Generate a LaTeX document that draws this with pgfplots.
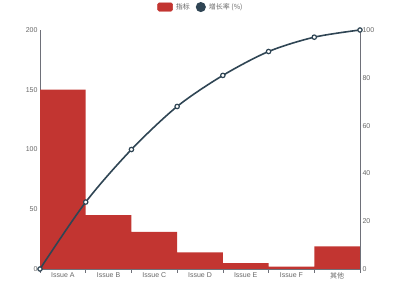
\documentclass[border=0pt]{standalone}
\usepackage{pgfplots}
\pgfplotsset{compat=1.18}
\usepackage{fontspec}
\setmainfont{Liberation Sans}
\newfontfamily\cjk{Noto Sans CJK SC}
\definecolor{barred}{HTML}{C23531}
\definecolor{linedark}{HTML}{2F4554}
\definecolor{axgray}{HTML}{6E7079}
\definecolor{labgray}{HTML}{666666}
\begin{document}
\begin{tikzpicture}[x=1pt,y=1pt]
\useasboundingbox (0,0) rectangle (400,300);
\pgfplotsset{
  common/.style={
    at={(40pt,31pt)}, anchor=south west,
    scale only axis, width=320pt, height=239pt,
    xmin=0, xmax=7,
    axis line style={axgray, line width=0.6pt},
    tick label style={font=\fontsize{7}{8}\selectfont, text=labgray},
    /pgf/number format/assume math mode=true,
    clip=false,
  }
}
\begin{axis}[
  common,
  ymin=0, ymax=200,
  ytick={0,50,...,200},
  axis x line*=bottom, axis y line*=left,
  xtick={0.5,1.5,...,6.5},
  xticklabels={Issue A,Issue B,Issue C,Issue D,Issue E,Issue F,{\cjk 其他}},
  major tick length=0pt,
  minor xtick={0,1,...,7},
  minor tick length=4pt,
  xtick pos=bottom, xtick align=outside,
  minor tick style={axgray, line width=0.6pt},
  yticklabel style={xshift=1pt},
]
\addplot[ybar, bar width=1, fill=barred, draw=none] coordinates {
  (0.5,150) (1.5,45) (2.5,31) (3.5,14) (4.5,5) (5.5,2) (6.5,19)
};
\end{axis}
\begin{axis}[
  common,
  ymin=0, ymax=100,
  ytick={0,20,...,100},
  axis x line=none, axis y line*=right,
  major tick length=0pt,
  yticklabel style={xshift=-1pt},
  legend style={at={(0.5,1.096)}, anchor=center, draw=none, fill=none,
    font=\fontsize{7}{8}\selectfont\cjk, text=labgray,
    legend columns=2, inner sep=0pt, nodes={inner sep=0pt},
    /tikz/every odd column/.append style={column sep=3pt},
    /tikz/every even column/.append style={column sep=6pt}},
  legend cell align=left,
]
\addlegendimage{legend image code/.code={\fill[barred, rounded corners=1.5pt] (0pt,-4.2pt) rectangle (15pt,4.2pt);}}
\addlegendentry{指标}
\addplot[linedark, line width=1.6pt, smooth, tension=0.5,
  mark=*, mark size=2.2pt, mark options={fill=white, draw=linedark, line width=1.2pt},
  legend image code/.code={\fill[linedark] (4.2pt,0pt) circle (4.2pt);}]
  coordinates {
  (0,0) (1,28) (2,50) (3,68) (4,81) (5,91) (6,97) (7,100)
};
\addlegendentry{增长率 (\%)}
\end{axis}
\end{tikzpicture}
\end{document}
